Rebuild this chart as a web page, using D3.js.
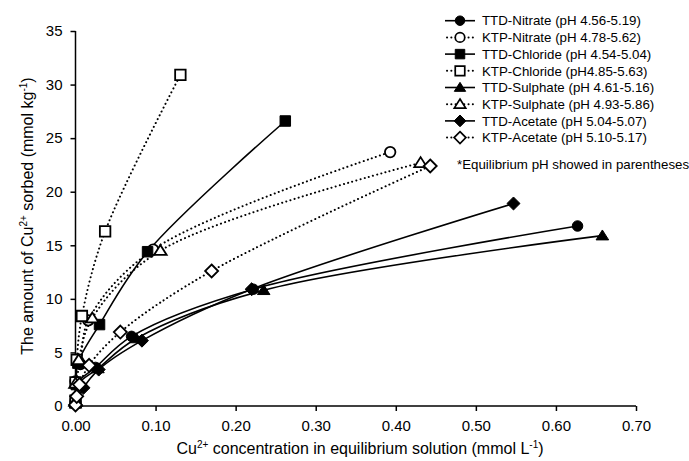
<!DOCTYPE html>
<html>
<head>
<meta charset="utf-8">
<script src="https://cdn.jsdelivr.net/npm/d3@7"></script>
<style>
  body { margin: 0; background: #fff; }
  svg { font-family: "Liberation Sans", Arial, sans-serif; }
</style>
</head>
<body>
<svg id="chart" width="689" height="461"></svg>
<script>
// tick labels
const xTicks = [0, 0.1, 0.2, 0.3, 0.4, 0.5, 0.6, 0.7];
const yTicks = [0, 5, 10, 15, 20, 25, 30, 35];

// series names (legend order)
const seriesNames = [
    'TTD-Nitrate (pH 4.56-5.19)',
    'KTP-Nitrate (pH 4.78-5.62)',
    'TTD-Chloride (pH 4.54-5.04)',
    'KTP-Chloride (pH4.85-5.63)',
    'TTD-Sulphate (pH 4.61-5.16)',
    'KTP-Sulphate (pH 4.93-5.86)',
    'TTD-Acetate (pH 5.04-5.07)',
    'KTP-Acetate (pH 5.10-5.17)',
];

// [Cu in solution (mmol/L), Cu sorbed (mmol/kg)]
const ttdNitrate = [[0.000, 0.3], [0.002, 2.1], [0.025, 3.6], [0.070, 6.5], [0.222, 10.9], [0.627, 16.8]];
const ktpNitrate = [[0.000, 0.4], [0.000, 2.3], [0.006, 3.9], [0.016, 8.0], [0.097, 14.6], [0.393, 23.7]];
const ttdChloride = [[0.000, 0.3], [0.001, 2.0], [0.003, 4.0], [0.030, 7.6], [0.090, 14.4], [0.262, 26.6]];
const ktpChloride = [[0.000, 0.5], [0.000, 2.2], [0.0015, 4.3], [0.008, 8.4], [0.037, 16.3], [0.131, 30.9]];
const ttdSulphate = [[0.000, 0.2], [0.003, 2.0], [0.028, 3.5], [0.076, 6.3], [0.235, 10.8], [0.658, 15.9]];
const ktpSulphate = [[0.000, 0.4], [0.000, 2.1], [0.004, 4.3], [0.021, 8.2], [0.106, 14.5], [0.431, 22.7]];
const ttdAcetate = [[0.000, 0.1], [0.010, 1.7], [0.029, 3.4], [0.083, 6.1], [0.220, 10.9], [0.547, 18.9]];
const ktpAcetate = [[0.000, 0.1], [0.0015, 0.9], [0.005, 2.0], [0.017, 3.8], [0.056, 6.9], [0.170, 12.6], [0.443, 22.4]];

const seriesValues = [ttdNitrate, ktpNitrate, ttdChloride, ktpChloride, ttdSulphate, ktpSulphate, ttdAcetate, ktpAcetate];
const markerShapes = ['circle', 'circle', 'square', 'square', 'triangle', 'triangle', 'diamond', 'diamond'];
const markerFilled = [true, false, true, false, true, false, true, false];

const svg = d3.select('#chart');
const margin = { top: 31, right: 53, bottom: 55, left: 75.5 };
const width = 689 - margin.left - margin.right;
const height = 461 - margin.top - margin.bottom;

const x = d3.scaleLinear().domain([0, 0.7]).range([0, width]);
const y = d3.scaleLinear().domain([0, 35]).range([height, 0]);

const plot = svg.append('g').attr('transform', `translate(${margin.left},${margin.top})`);

// marker path generator
function markerPath(shape, s) {
    if (shape === 'circle') return d3.symbol(d3.symbolCircle, Math.PI * s * s / 4)();
    if (shape === 'square') return `M${-s / 2},${-s / 2}h${s}v${s}h${-s}Z`;
    if (shape === 'triangle') {
        const h = s * 0.9;
        return `M0,${-h * 0.6}L${s * 0.6},${h * 0.45}L${-s * 0.6},${h * 0.45}Z`;
    }
    const r = s * 0.62;
    return `M0,${-r}L${r},0L0,${r}L${-r},0Z`;
}

// axes
const xAxis = d3.axisBottom(x).tickValues(xTicks).tickFormat(d3.format('.2f')).tickSize(5).tickSizeOuter(5);
const yAxis = d3.axisLeft(y).tickValues(yTicks).tickFormat(d3.format('d')).tickSize(5).tickSizeOuter(5);

const gx = plot.append('g').attr('transform', `translate(0,${height})`).call(xAxis);
const gy = plot.append('g').call(yAxis);
[gx, gy].forEach((g) => {
    g.select('.domain').attr('stroke', '#000').attr('stroke-width', 1.5);
    g.selectAll('.tick line').attr('stroke', '#000').attr('stroke-width', 1.5);
    g.selectAll('.tick text').attr('fill', '#000').attr('font-size', 15)
        .attr('font-family', '"Liberation Sans", Arial, sans-serif');
});
gx.select('.domain').attr('d', `M0,0H${width}`);
gy.select('.domain').attr('d', `M0,${height}V0`);
gx.selectAll('.tick text').attr('y', 14).attr('dy', '0.71em');
gy.selectAll('.tick text').attr('x', -13);

// axis titles
const xTitle = svg.append('text')
    .attr('x', 360)
    .attr('y', 454)
    .attr('text-anchor', 'middle')
    .attr('font-size', 16);
xTitle.append('tspan').text('Cu');
xTitle.append('tspan').attr('font-size', 10).attr('dy', -6).text('2+');
xTitle.append('tspan').attr('dy', 6).text(' concentration in equilibrium solution (mmol L');
xTitle.append('tspan').attr('font-size', 10).attr('dy', -6).text('-1');
xTitle.append('tspan').attr('dy', 6).text(')');

const yTitle = svg.append('text')
    .attr('transform', 'translate(33,216) rotate(-90)')
    .attr('text-anchor', 'middle')
    .attr('font-size', 16);
yTitle.append('tspan').text('The amount of Cu');
yTitle.append('tspan').attr('font-size', 10).attr('dy', -6).text('2+');
yTitle.append('tspan').attr('dy', 6).text(' sorbed (mmol kg');
yTitle.append('tspan').attr('font-size', 10).attr('dy', -6).text('-1');
yTitle.append('tspan').attr('dy', 6).text(')');

// lines
const line = d3.line()
    .x(d => x(d[0]))
    .y(d => y(d[1]))
    .curve(d3.curveCatmullRom.alpha(0.5));

seriesValues.forEach((vals, i) => {
    plot.append('path')
        .datum(vals)
        .attr('d', line)
        .attr('fill', 'none')
        .attr('stroke', '#000')
        .attr('stroke-width', markerFilled[i] ? 1.6 : 2)
        .attr('stroke-linecap', markerFilled[i] ? 'butt' : 'round')
        .attr('stroke-dasharray', markerFilled[i] ? null : '0.1,4.2');
});

// markers
seriesValues.forEach((vals, i) => {
    plot.append('g')
        .selectAll('path')
        .data(vals)
        .join('path')
        .attr('transform', d => `translate(${x(d[0])},${y(d[1])})`)
        .attr('d', markerPath(markerShapes[i], 10.5))
        .attr('fill', markerFilled[i] ? '#000' : '#fff')
        .attr('stroke', '#000')
        .attr('stroke-width', markerFilled[i] ? 1 : 1.8);
});

// legend
const legend = svg.append('g').attr('transform', 'translate(445,20.7)');
seriesNames.forEach((name, i) => {
    const row = legend.append('g').attr('transform', `translate(0,${i * 16.7})`);
    row.append('line')
        .attr('x1', markerFilled[i] ? 0 : 2).attr('x2', markerFilled[i] ? 30 : 29)
        .attr('stroke', '#000')
        .attr('stroke-width', markerFilled[i] ? 1.6 : 2)
        .attr('stroke-linecap', markerFilled[i] ? 'butt' : 'round')
        .attr('stroke-dasharray', markerFilled[i] ? null : '0.1,4.2');
    row.append('path')
        .attr('transform', 'translate(15,0)')
        .attr('d', markerPath(markerShapes[i], 9.5))
        .attr('fill', markerFilled[i] ? '#000' : '#fff')
        .attr('stroke', '#000')
        .attr('stroke-width', markerFilled[i] ? 1 : 1.7);
    row.append('text')
        .attr('x', 37)
        .attr('dy', '0.36em')
        .attr('font-size', 13.3)
        .text(name);
});
svg.append('text')
    .attr('x', 457)
    .attr('y', 168.5)
    .attr('font-size', 13.3)
    .text('*Equilibrium pH showed in parentheses');
</script>
</body>
</html>
